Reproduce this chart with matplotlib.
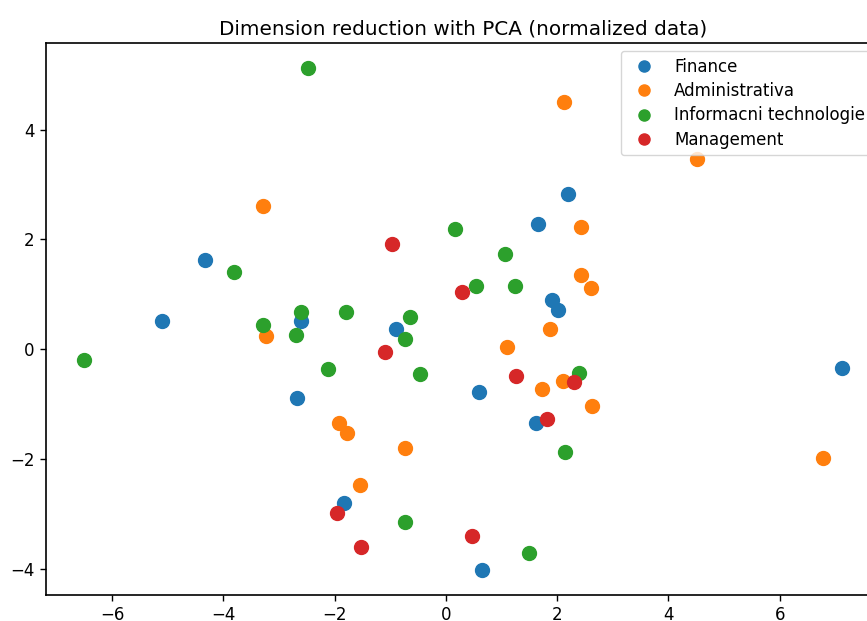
import matplotlib
matplotlib.use("Agg")
import matplotlib.pyplot as plt

# PCA components, one pair of lists per group
finance_x = [2.19, 1.66, -4.32, -5.11, -2.61, -0.89, 1.90, 2.01, 7.12, -2.67, 0.60, 1.62, -1.83, 0.65]
finance_y = [2.83, 2.28, 1.62, 0.52, 0.52, 0.36, 0.89, 0.71, -0.35, -0.89, -0.78, -1.35, -2.81, -4.03]

admin_x = [2.12, 4.52, -3.28, 2.42, 2.42, 2.61, -3.24, 1.87, 1.10, 2.11, 1.72, 2.62, -1.92, -1.77, -0.73, -1.55, 6.77]
admin_y = [4.51, 3.47, 2.61, 2.22, 1.36, 1.11, 0.24, 0.36, 0.04, -0.58, -0.73, -1.03, -1.35, -1.53, -1.80, -2.47, -1.99]

it_x = [-2.485, 0.16, -3.81, 1.06, 0.54, 1.25, -2.61, -1.80, -0.64, -3.28, -2.69, -0.73, -6.51, -2.11, -0.46, 2.39, 2.14, -0.73, 1.49]
it_y = [5.13, 2.19, 1.40, 1.74, 1.15, 1.15, 0.68, 0.68, 0.58, 0.44, 0.26, 0.19, -0.19, -0.37, -0.46, -0.44, -1.88, -3.15, -3.72]

mgmt_x = [-0.96, 0.29, -1.10, 1.26, 2.31, 1.82, -1.95, -1.52, 0.47]
mgmt_y = [1.91, 1.05, -0.06, -0.49, -0.60, -1.28, -2.98, -3.60, -3.41]

labels = ['Finance', 'Administrativa', 'Informacni technologie', 'Management']
groups = [(finance_x, finance_y), (admin_x, admin_y), (it_x, it_y), (mgmt_x, mgmt_y)]

plt.rcParams['font.size'] = 12

fig = plt.figure(figsize=(8.67, 6.21), dpi=100)
# axes run past the right edge, like the cropped original
ax = fig.add_axes([0.0527, 0.0414, 0.9623, 0.8898])

for (xs, ys), lab in zip(groups, labels):
    ax.plot(xs, ys, 'o', markersize=10, label=lab)

ax.set_title('Dimension reduction with PCA (normalized data)')
ax.tick_params(length=4.5, width=1)
for s in ax.spines.values():
    s.set_linewidth(1.2)

ax.legend(loc='upper right', labelspacing=0.38, markerscale=0.8)
fig.savefig('out.png', dpi=100)
